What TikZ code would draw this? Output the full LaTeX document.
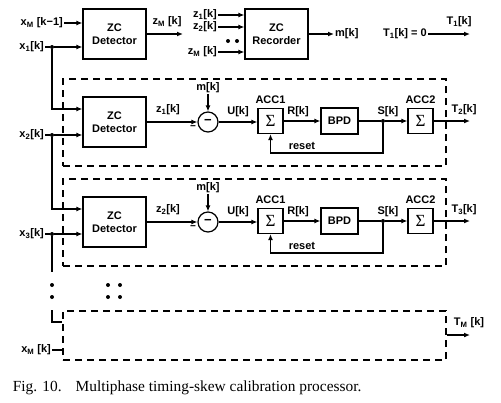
\documentclass[tikz,border=0pt]{standalone}
\usepackage{fontspec}
\setmainfont{Liberation Serif}
\setsansfont{Liberation Sans}
\usetikzlibrary{arrows.meta}

\begin{document}
\begin{tikzpicture}[x=1pt,y=-1pt]

 \tikzset{
    lbl/.style={font=\sffamily\bfseries\fontsize{11}{13.5}\selectfont, inner sep=1pt},
    block/.style={lbl, draw, line width=1.2pt, minimum width=63pt, minimum height=50pt, align=center},
    sumbox/.style={draw, line width=1.2pt, minimum size=25pt, inner sep=0pt, font=\rmfamily\fontsize{17}{17}\selectfont},
    bpd/.style={lbl, draw, line width=1.2pt, minimum width=37pt, minimum height=26pt, inner sep=0pt},
    sub/.style={lbl, draw, circle, line width=1.2pt, minimum size=20pt, inner sep=0pt, font=\sffamily\bfseries\fontsize{13}{13}\selectfont},
    group/.style={draw, dash pattern=on 7pt off 5pt, line width=1.2pt, minimum width=383pt},
    junc/.style={circle, fill, inner sep=0pt, minimum size=4pt},
    wire/.style={line width=1.2pt},
    arr/.style={wire, -{Latex[length=6pt,width=5pt]}},
  }

  \useasboundingbox (0,0) rectangle (501,402);

  \node[group, minimum height=87pt] (g1) at (254.5,122.5) {};
  \node[group, minimum height=87pt] (g2) at (254.5,222.5) {};
  \node[group, minimum height=49pt] (g3) at (254.5,335.5) {};

  \node[block] (det0) at (114.5,34) {ZC\\Detector};
  \node[block] (rec) at (276.5,34) {ZC\\Recorder};
  \node[lbl, anchor=east] (xm1) at (64,23) {x\textsubscript{M} [k−1]};
  \node[lbl, anchor=east] (x1) at (45,47) {x\textsubscript{1}[k]};
  \node[junc] (j1) at (52,47) {};
  \node[lbl] (zm) at (167,22) {z\textsubscript{M} [k]};
  \coordinate (zmend) at (183,34);
  \node[lbl, anchor=east] (z1in) at (218,15) {z\textsubscript{1}[k]};
  \node[lbl, anchor=east] (z2in) at (218,27) {z\textsubscript{2}[k]};
  \node[lbl, anchor=east] (zmin) at (218,52) {z\textsubscript{M} [k]};
  \node[junc] (rd1) at (228,41) {};
  \node[junc] (rd2) at (237,41) {};
  \node[lbl, anchor=west] (mk) at (334,34) {m[k]};
  \node[lbl, anchor=east] (t1zero) at (428,34) {T\textsubscript{1}[k] = 0};
  \coordinate (t1end) at (470,34);
  \node[lbl] (t1) at (459,22) {T\textsubscript{1}[k]};

  \node[block] (det1) at (114.5,122) {ZC\\Detector};
  \node[lbl, anchor=east] (x2) at (45,135) {x\textsubscript{2}[k]};
  \node[junc] (j2) at (52,135) {};
  \node[lbl] (z1) at (168,110) {z\textsubscript{1}[k]};
  \node[sub] (s1) at (208,122) {−};
  \node[lbl] (m1) at (208,88) {m[k]};
  \node[lbl, font=\sffamily\bfseries\fontsize{10}{10}\selectfont] (neg1) at (193,128) {−};
  \node[lbl] (u1) at (238,112) {U[k]};
  \node[sumbox] (acc1a) at (270.5,121) {Σ};
  \node[lbl, above=3pt] (acc1lbl) at (acc1a.north) {ACC1};
  \node[lbl] (r1) at (298,112) {R[k]};
  \node[bpd] (bpd1) at (339.5,121) {BPD};
  \node[junc] (sd1) at (383,121) {};
  \node[lbl] (sk1) at (388,112) {S[k]};
  \node[sumbox] (acc2a) at (420.5,121) {Σ};
  \node[lbl, above=3pt] (acc2lbl) at (acc2a.north) {ACC2};
  \coordinate (rs1) at (383,153);
  \node[lbl] (reset1) at (302,146) {reset};
  \coordinate (t2end) at (470,121);
  \node[lbl] (t2) at (464,110) {T\textsubscript{2}[k]};

  \node[block] (det2) at (114.5,222) {ZC\\Detector};
  \node[lbl, anchor=east] (x3) at (45,234) {x\textsubscript{3}[k]};
  \node[junc] (j3) at (52,234) {};
  \node[lbl] (z2) at (168,210) {z\textsubscript{2}[k]};
  \node[sub] (s2) at (208,222) {−};
  \node[lbl] (m2) at (208,188) {m[k]};
  \node[lbl, font=\sffamily\bfseries\fontsize{10}{10}\selectfont] (neg2) at (193,228) {−};
  \node[lbl] (u2) at (238,212) {U[k]};
  \node[sumbox] (acc1b) at (270.5,221) {Σ};
  \node[lbl, above=3pt] (acc1blbl) at (acc1b.north) {ACC1};
  \node[lbl] (r2) at (298,212) {R[k]};
  \node[bpd] (bpd2) at (339.5,221) {BPD};
  \node[junc] (sd2) at (383,221) {};
  \node[lbl] (sk2) at (388,212) {S[k]};
  \node[sumbox] (acc2b) at (420.5,221) {Σ};
  \node[lbl, above=3pt] (acc2blbl) at (acc2b.north) {ACC2};
  \coordinate (rs2) at (383,253);
  \node[lbl] (reset2) at (302,246) {reset};
  \coordinate (t3end) at (470,221);
  \node[lbl] (t3) at (464,210) {T\textsubscript{3}[k]};

  \coordinate (c3) at (52,272);
  \node[junc] (vd1) at (52,285) {};
  \node[junc] (vd2) at (52,297) {};
  \node[junc] (hd1) at (108,285) {};
  \node[junc] (hd2) at (120,285) {};
  \node[junc] (hd3) at (108,297) {};
  \node[junc] (hd4) at (120,297) {};
  \coordinate (c4) at (52,310);
  \coordinate (c5) at (52,322);
  \node[lbl, anchor=east] (xm) at (52,350) {x\textsubscript{M} [k]};
  \coordinate (tmend) at (470,335);
  \node[lbl] (tm) at (469,323) {T\textsubscript{M} [k]};

  \draw[arr] (xm1) -- (det0.west |- xm1);
  \draw[wire] (x1) -- (j1);
  \draw[arr] (j1) -- (det0.west |- j1);
  \draw[arr] (j1) |- ([yshift=13pt]det1.west);
  \draw[arr] (det0.east) -- (zmend);
  \draw[arr] (z1in) -- (rec.west |- z1in);
  \draw[arr] (z2in) -- (rec.west |- z2in);
  \draw[arr] (zmin) -- (rec.west |- zmin);
  \draw[arr] (rec.east) -- (mk);
  \draw[arr] (t1zero) -- (t1end);

  \draw[wire] (x2) -- (j2);
  \draw[arr] (j2) -- (det1.west |- j2);
  \draw[arr] (j2) |- ([yshift=13pt]det2.west);
  \draw[arr] (det1.east |- s1) -- (s1);
  \draw[arr] (m1) -- (s1);
  \draw[arr] (s1.east) -- (acc1a.west |- s1);
  \draw[arr] (acc1a) -- (bpd1);
  \draw[wire] (bpd1) -- (sd1);
  \draw[arr] (sd1) -- (acc2a);
  \draw[arr] (sd1) -- (rs1) -| (acc1a.south);
  \draw[arr] (acc2a) -- (t2end);

  \draw[wire] (x3) -- (j3);
  \draw[arr] (j3) -- (det2.west |- j3);
  \draw[wire] (j3) -- (c3);
  \draw[arr] (det2.east |- s2) -- (s2);
  \draw[arr] (m2) -- (s2);
  \draw[arr] (s2.east) -- (acc1b.west |- s2);
  \draw[arr] (acc1b) -- (bpd2);
  \draw[wire] (bpd2) -- (sd2);
  \draw[arr] (sd2) -- (acc2b);
  \draw[arr] (sd2) -- (rs2) -| (acc1b.south);
  \draw[arr] (acc2b) -- (t3end);

  \draw[wire] (c4) |- (g3.west |- c5);
  \draw[wire] (xm) -- (g3.west |- xm);
  \draw[arr] (g3.east |- tmend) -- (tmend);

  \node[anchor=base west, inner sep=0pt, font=\fontsize{15.4}{18}\selectfont] (cap) at (12.7,391) {Fig. 10.\hspace{14pt}Multiphase timing-skew calibration processor.};

\end{tikzpicture}
\end{document}
